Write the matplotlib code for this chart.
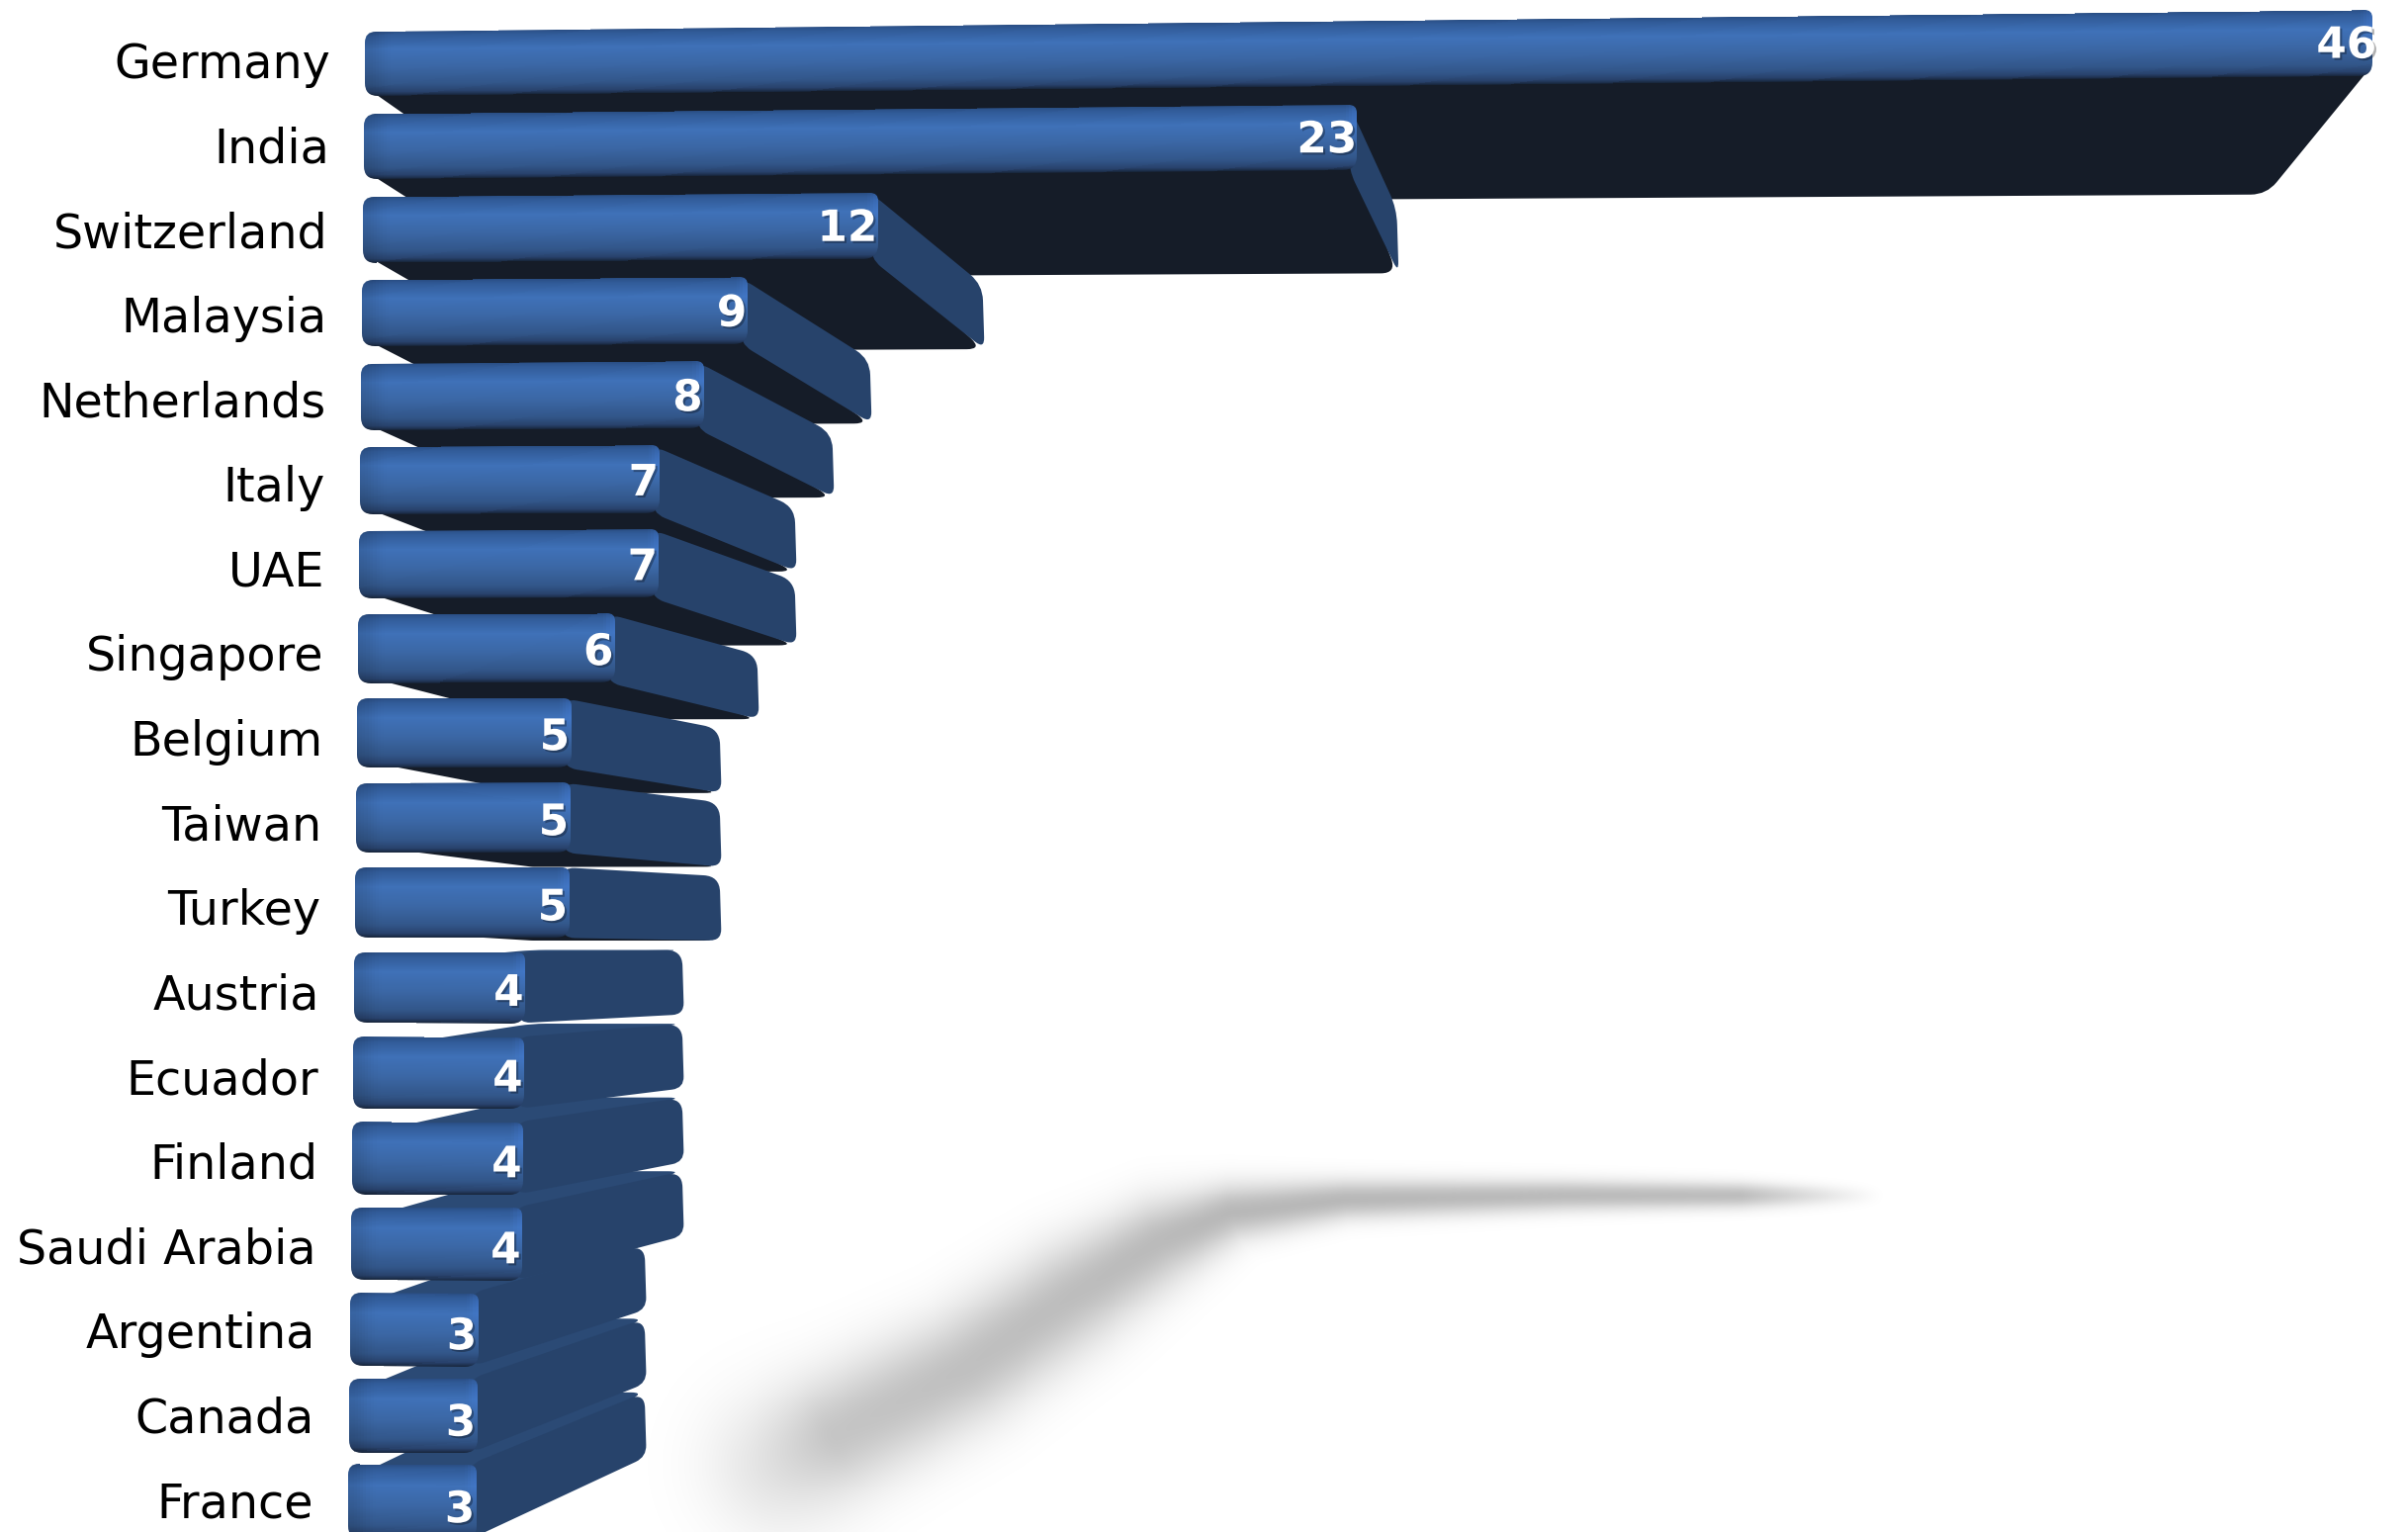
import matplotlib
matplotlib.use("Agg")
import matplotlib.pyplot as plt
import matplotlib.patheffects as pe
import numpy as np
from matplotlib.colors import LinearSegmentedColormap
from matplotlib.patches import PathPatch
from matplotlib.path import Path

countries = ["Germany", "India", "Switzerland", "Malaysia", "Netherlands", "Italy",
             "UAE", "Singapore", "Belgium", "Taiwan", "Turkey", "Austria", "Ecuador",
             "Finland", "Saudi Arabia", "Argentina", "Canada", "France"]
values = [46, 23, 12, 9, 8, 7, 7, 6, 5, 5, 5, 4, 4, 4, 4, 3, 3, 3]

W, H = 2435, 1549
HORIZON = 932

END_COL = "#27436b"
UNDER_COL = "#151c28"
TOP_COL = "#2b4a75"
TEXT_COL = "black"

front_cmap = LinearSegmentedColormap.from_list("front", [
    (0.0, "#2a4e84"), (0.06, "#315b98"), (0.28, "#3f71b8"), (0.55, "#3b67a5"),
    (0.82, "#325689"), (0.94, "#28426c"), (1.0, "#18263c")])


def front_y(row, v, bottom=False):
    y = 32 + 83.5 * row + 0.1 * row ** 2
    if bottom:
        y += 65 + row * 0.62
    return y + (y - HORIZON) * v * 0.000525


def front_x(row, v):
    return 369 - row + 43.2 * v + 0.02 * v ** 2


def back_y(row, v, bottom=True):
    y = 206 + 74.5 * row
    if not bottom:
        y -= 65
    return y + (y - HORIZON) * v * 0.00028


def back_x(v):
    return 538 + 37.9 * v + 0.005 * v ** 2


def rounded(pts, r):
    # closed outline with the corners cut by quadratic curves
    pts = [np.array(p, float) for p in pts]
    verts, codes = [], []
    n = len(pts)
    for k in range(n):
        p, a, b = pts[k], pts[k - 1], pts[(k + 1) % n]
        rr = r[k] if np.iterable(r) else r
        d1 = (a - p) / np.linalg.norm(a - p)
        d2 = (b - p) / np.linalg.norm(b - p)
        rr = min(rr, np.linalg.norm(a - p) * 0.45, np.linalg.norm(b - p) * 0.45)
        verts += [p + d1 * rr, p, p + d2 * rr]
        codes += [Path.LINETO, Path.CURVE3, Path.CURVE3]
    codes[0] = Path.MOVETO
    verts.append(verts[0])
    codes.append(Path.CLOSEPOLY)
    return Path(verts, codes)


def shadow_layer(ax):
    # soft floor shadow, built from gaussians along a bent band
    band_x = [790, 845, 975, 1082, 1171, 1243, 1359, 1582, 1760, 1900]
    band_y = [1480, 1450, 1383, 1310, 1255, 1225, 1212, 1208, 1208, 1208]
    band_s = [52, 44, 40, 37, 30, 20, 14, 11, 9, 6]
    band_a = [0.12, 0.23, 0.25, 0.26, 0.27, 0.28, 0.28, 0.27, 0.26, 0.0]
    t = np.linspace(0, len(band_x) - 1, 800)
    idx = np.arange(len(band_x))
    cx, cy = np.interp(t, idx, band_x), np.interp(t, idx, band_y)
    cs, ca = np.interp(t, idx, band_s), np.interp(t, idx, band_a)
    gx, gy = np.meshgrid(np.arange(560, 2000, 2), np.arange(1100, 1549, 2))
    alpha = np.zeros(gx.shape)
    for x0, y0, s, a in zip(cx, cy, cs, ca):
        alpha = np.maximum(alpha, a * np.exp(-((gx - x0) ** 2 + (gy - y0) ** 2) / (2 * s * s)))
    rgba = np.zeros(gx.shape + (4,))
    rgba[..., 3] = alpha
    ax.imshow(rgba, extent=(560, 2000, 1549, 1100), interpolation="bilinear", zorder=0, aspect="auto")


def draw_bar(ax, row, v, z):
    fx, fy_t, fy_b = front_x(row, v), front_y(row, v), front_y(row, v, True)
    lx, ly_t, ly_b = front_x(row, 0), front_y(row, 0), front_y(row, 0, True)
    bx0, bx1 = back_x(0), back_x(v)

    # underside, seen on the rows above eye level
    under = [(lx + 2, ly_b - 8), (fx - 2, fy_b - 8), (bx1, back_y(row, v)), (bx0, back_y(row, 0))]
    ax.add_patch(PathPatch(rounded(under, [14, 6, 16, 2]), fc=UNDER_COL, ec="none", zorder=z))

    # top side, seen on the rows below eye level
    if row > 10:
        top = [(lx + 4, ly_t + 14), (fx, fy_t + 14), (bx1, back_y(row, v, False)), (bx0, back_y(row, 0, False))]
        ax.add_patch(PathPatch(rounded(top, 14), fc=TOP_COL, ec="none", zorder=z))

    # end cap, hidden when the far end sits left of the near end
    if bx1 > fx:
        cap = [(fx - 8, fy_t), (bx1, back_y(row, v, False)), (bx1 + 2, back_y(row, v)), (fx - 8, fy_b)]
        ax.add_patch(PathPatch(rounded(cap, [14, 16, 12, 14]), fc=END_COL, ec="none", zorder=z + 0.1))

    # front face with a shaded mesh clipped to the rounded outline
    outline = rounded([(lx, ly_t), (fx, fy_t), (fx, fy_b), (lx, ly_b)], [11, 8, 14, 13])
    nu, nt = int((fx - lx) / 3), 70
    u = np.linspace(0, 1, nu + 1)
    t = np.linspace(0, 1, nt + 1)
    xx = np.outer(np.ones(nt + 1), lx - 4 + (fx - lx + 8) * u)
    vv = u * v
    yt = front_y(row, vv)
    yb = front_y(row, vv, True)
    yy = np.outer(t, yb - yt) + yt
    tc = (t[:-1] + t[1:]) / 2
    uc = (xx[0, :-1] + xx[0, 1:]) / 2
    rgb = front_cmap(np.repeat(tc[:, None], nu, axis=1))[..., :3]
    # bevels at both ends
    left = np.clip((uc - lx) / 30, 0, 1)
    left = (left * left * (3 - 2 * left))[None, :, None]
    rgb = rgb * (0.88 + 0.12 * left)
    right = np.clip((fx - uc) / 14, 0, 1)
    right = (right * right * (3 - 2 * right))[None, :, None]
    glow = np.array([0.27, 0.50, 0.88])[None, None, :]
    mix = (1 - right) * 0.35 * np.exp(-((tc - 0.2) / 0.25) ** 2)[:, None, None]
    rgb = rgb * (1 - mix) + glow * mix
    mesh = ax.pcolormesh(xx, yy, rgb, shading="flat", antialiased=False, zorder=z + 0.2)
    clip = PathPatch(outline, transform=ax.transData, fc="none", ec="none")
    ax.add_patch(clip)
    mesh.set_clip_path(clip)


fig = plt.figure(figsize=(W / 100, H / 100), dpi=100, facecolor="white")
ax = fig.add_axes([0, 0, 1, 1])
ax.set_xlim(0, W)
ax.set_ylim(H, 0)
ax.axis("off")

shadow_layer(ax)

# rows nearest eye level cover the ones further from it
order = sorted(range(len(values)), key=lambda r: -abs(r - 10))
for z, row in enumerate(order):
    draw_bar(ax, row, values[row], 2 + z)

for row, (name, v) in enumerate(zip(countries, values)):
    ax.text(front_x(row, 0) - 35, 79 + 85.6 * row, name, ha="right", va="baseline",
            fontsize=34.3, color=TEXT_COL, zorder=40)
    mid = (front_y(row, v) + front_y(row, v, True)) / 2
    txt = ax.text(front_x(row, v) - 1.5 + 0.003 * v ** 2, mid - 2 + 0.3 * row, str(v), ha="right",
                  va="center_baseline", fontsize=31.5, fontweight="bold", color="white", zorder=41)
    txt.set_path_effects([pe.withSimplePatchShadow(offset=(1.5, -1.5), shadow_rgbFace="black", alpha=0.3)])

ax.set_xlim(0, W)
ax.set_ylim(H, 0)
fig.savefig("out.png", dpi=100, facecolor="white")
